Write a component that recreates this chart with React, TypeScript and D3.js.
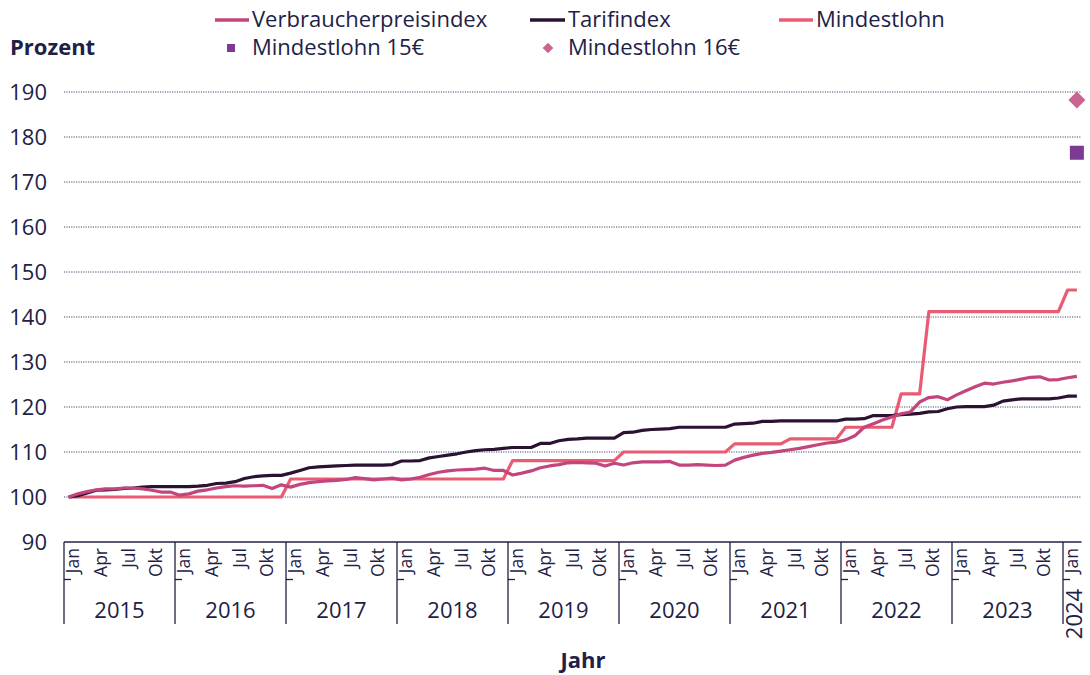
import React from "react";
import * as d3 from "d3";

const years = ["2015", "2016", "2017", "2018", "2019", "2020", "2021", "2022", "2023", "2024"];
const monthNames = ["Jan", "Feb", "Mär", "Apr", "Mai", "Jun", "Jul", "Aug", "Sep", "Okt", "Nov", "Dez"];
const shownMonths = ["Jan", "Apr", "Jul", "Okt"];
const lastYearMonths = 2;
const yTicks = [90, 100, 110, 120, 130, 140, 150, 160, 170, 180, 190];

const verbraucherpreisindex = [
  100.0, 100.7, 101.2, 101.6, 101.8, 101.8, 102.0, 102.0, 101.8, 101.5, 101.1, 101.1,
  100.4, 100.7, 101.3, 101.6, 102.0, 102.3, 102.5, 102.4, 102.5, 102.6, 101.9, 102.7,
  102.2, 102.8, 103.2, 103.4, 103.6, 103.7, 103.9, 104.3, 104.1, 103.8, 104.0, 104.2,
  103.8, 104.0, 104.4, 105.0, 105.5, 105.8, 106.0, 106.1, 106.2, 106.4, 105.9, 105.9,
  104.9, 105.3, 105.8, 106.5, 106.9, 107.2, 107.6, 107.7, 107.6, 107.5, 106.9, 107.5,
  107.1, 107.6, 107.8, 107.8, 107.8, 107.9, 107.1, 107.1, 107.2, 107.1, 107.0, 107.1,
  108.2, 108.8, 109.3, 109.7, 109.9, 110.2, 110.5, 110.8, 111.2, 111.6, 112.0, 112.2,
  112.7, 113.6, 115.5, 116.3, 117.1, 117.8, 118.5, 118.9, 121.1, 122.1, 122.3, 121.6,
  122.7, 123.6, 124.5, 125.3, 125.1, 125.5, 125.8, 126.2, 126.6, 126.7, 126.0, 126.1,
  126.5, 126.8,
];

const tarifindex = [
  100.0, 100.3, 100.9, 101.5, 101.6, 101.7, 101.9, 102.0, 102.2, 102.3, 102.3, 102.3,
  102.3, 102.3, 102.4, 102.6, 103.0, 103.1, 103.4, 104.1, 104.5, 104.7, 104.8, 104.8,
  105.3, 105.9, 106.5, 106.7, 106.8, 106.9, 107.0, 107.1, 107.1, 107.1, 107.1, 107.2,
  108.0, 108.0, 108.1, 108.7, 109.0, 109.3, 109.6, 110.0, 110.3, 110.5, 110.6, 110.8,
  111.0, 111.0, 111.0, 111.9, 111.9, 112.5, 112.8, 112.9, 113.1, 113.1, 113.1, 113.1,
  114.3, 114.4, 114.8, 115.0, 115.1, 115.2, 115.5, 115.5, 115.5, 115.5, 115.5, 115.5,
  116.2, 116.3, 116.4, 116.8, 116.8, 116.9, 116.9, 116.9, 116.9, 116.9, 116.9, 116.9,
  117.3, 117.3, 117.4, 118.1, 118.1, 118.1, 118.3, 118.4, 118.6, 118.9, 119.0, 119.6,
  120.0, 120.1, 120.1, 120.1, 120.4, 121.3, 121.6, 121.8, 121.8, 121.8, 121.8, 122.0,
  122.4, 122.4,
];

const mindestlohn = [
  100.0, 100.0, 100.0, 100.0, 100.0, 100.0, 100.0, 100.0, 100.0, 100.0, 100.0, 100.0,
  100.0, 100.0, 100.0, 100.0, 100.0, 100.0, 100.0, 100.0, 100.0, 100.0, 100.0, 100.0,
  104.0, 104.0, 104.0, 104.0, 104.0, 104.0, 104.0, 104.0, 104.0, 104.0, 104.0, 104.0,
  104.0, 104.0, 104.0, 104.0, 104.0, 104.0, 104.0, 104.0, 104.0, 104.0, 104.0, 104.0,
  108.1, 108.1, 108.1, 108.1, 108.1, 108.1, 108.1, 108.1, 108.1, 108.1, 108.1, 108.1,
  110.0, 110.0, 110.0, 110.0, 110.0, 110.0, 110.0, 110.0, 110.0, 110.0, 110.0, 110.0,
  111.8, 111.8, 111.8, 111.8, 111.8, 111.8, 112.9, 112.9, 112.9, 112.9, 112.9, 112.9,
  115.5, 115.5, 115.5, 115.5, 115.5, 115.5, 122.9, 122.9, 122.9, 141.2, 141.2, 141.2,
  141.2, 141.2, 141.2, 141.2, 141.2, 141.2, 141.2, 141.2, 141.2, 141.2, 141.2, 141.2,
  146.0, 146.0,
];

const mindestlohn15 = 176.5;
const mindestlohn16 = 188.2;

const TEXT = "#1e2146";
const C_VPI = "#c2457d";
const C_TARIF = "#2b1233";
const C_ML = "#ea5b73";
const C_SQ = "#7d3a94";
const C_DIA = "#c96490";
const FONT = "'Open Sans', 'Noto Sans', sans-serif";

export default function App() {
  const W = 1090, H = 675;
  const x0 = 64, x1 = 1081.5;
  const yTop = 92, yBot = 542;

  const months: string[] = [];
  years.forEach((yr, yi) => {
    const n = yi === years.length - 1 ? lastYearMonths : 12;
    for (let m = 0; m < n; m++) months.push(`${yr}-${monthNames[m]}`);
  });

  const x = d3.scaleBand<string>().domain(months).range([x0, x1]).padding(0);
  const y = d3.scaleLinear().domain([90, 190]).range([yBot, yTop]);
  const cx = (k: string) => (x(k) as number) + x.bandwidth() / 2;

  const line = d3
    .line<number>()
    .x((_, i) => cx(months[i]))
    .y((v) => y(v));

  const lastKey = months[months.length - 1];

  const yearStarts = years.map((yr) => months.indexOf(`${yr}-Jan`));

  return (
    <svg width={W} height={H} style={{ position: "absolute", left: 0, top: 0, fontFamily: FONT }}>
      <rect width={W} height={H} fill="#fff" />
      {/* grid */}
      {yTicks.filter((t) => t > 90).map((t) => (
        <line key={t} x1={x0} x2={x1} y1={y(t)} y2={y(t)} stroke="#4a4f70" strokeWidth={1} strokeDasharray="1.2,1.2" />
      ))}
      {yTicks.map((t) => (
        <text key={t} x={47} y={y(t)} dy="0.36em" textAnchor="end" fontSize={22} fill={TEXT}>{t}</text>
      ))}
      {/* x axis */}
      <line x1={x0} x2={x1} y1={yBot} y2={yBot} stroke={TEXT} strokeWidth={1.3} />
      {yearStarts.map((s, i) => {
        const xs = x(months[s]) as number;
        return (
          <g key={years[i]}>
            <line x1={xs} x2={xs} y1={yBot} y2={624} stroke={TEXT} strokeWidth={1.3} />
            <line x1={xs} x2={xs + 7} y1={579.5} y2={579.5} stroke={TEXT} strokeWidth={1.3} />
          </g>
        );
      })}
      {months.map((k) => {
        const m = k.split("-")[1];
        if (!shownMonths.includes(m)) return null;
        const px = cx(k) + 3.5;
        return (
          <text key={k} transform={`translate(${px},${548}) rotate(-90)`} textAnchor="end" dominantBaseline="central" fontSize={17.5} fill={TEXT}>{m}</text>
        );
      })}
      {years.map((yr, i) => {
        const s = yearStarts[i];
        const n = i === years.length - 1 ? lastYearMonths : 12;
        const xs = x(months[s]) as number;
        const mid = xs + (n * x.bandwidth()) / 2;
        if (n < 12) {
          return (
            <text key={yr} transform={`translate(${mid + 1},${614}) rotate(-90)`} textAnchor="middle" dominantBaseline="central" fontSize={22} fill={TEXT}>{yr}</text>
          );
        }
        return (
          <text key={yr} x={mid} y={618} textAnchor="middle" fontSize={22} fill={TEXT}>{yr}</text>
        );
      })}
      <text x={583} y={668} textAnchor="middle" fontSize={22} fontWeight="bold" fill={TEXT}>Jahr</text>
      <text x={10} y={55} fontSize={22} fontWeight="bold" fill={TEXT}>Prozent</text>

      {/* lines */}
      <path d={line(mindestlohn) || ""} fill="none" stroke={C_ML} strokeWidth={3.2} strokeLinejoin="round" />
      <path d={line(tarifindex) || ""} fill="none" stroke={C_TARIF} strokeWidth={3.2} strokeLinejoin="round" />
      <path d={line(verbraucherpreisindex) || ""} fill="none" stroke={C_VPI} strokeWidth={3.2} strokeLinejoin="round" />

      {/* markers */}
      <rect x={cx(lastKey) - 7} y={y(mindestlohn15) - 7} width={14} height={14} fill={C_SQ} />
      <path d={d3.symbol(d3.symbolSquare, 144)() || ""} transform={`translate(${cx(lastKey)},${y(mindestlohn16)}) rotate(45)`} fill={C_DIA} />

      {/* legend */}
      <line x1={215} x2={249} y1={20} y2={20} stroke={C_VPI} strokeWidth={3.5} />
      <text x={252} y={27} fontSize={22} fill={TEXT}>Verbraucherpreisindex</text>
      <line x1={530} x2={565} y1={20} y2={20} stroke={C_TARIF} strokeWidth={3.5} />
      <text x={568} y={27} fontSize={22} fill={TEXT}>Tarifindex</text>
      <line x1={779} x2={813} y1={20} y2={20} stroke={C_ML} strokeWidth={3.5} />
      <text x={816} y={27} fontSize={22} fill={TEXT}>Mindestlohn</text>
      <rect x={227} y={44} width={8} height={8} fill={C_SQ} />
      <text x={252} y={55} fontSize={22} fill={TEXT}>Mindestlohn 15€</text>
      <path d={d3.symbol(d3.symbolSquare, 56)() || ""} transform={`translate(548,48) rotate(45)`} fill={C_DIA} />
      <text x={568} y={55} fontSize={22} fill={TEXT}>Mindestlohn 16€</text>
    </svg>
  );
}
